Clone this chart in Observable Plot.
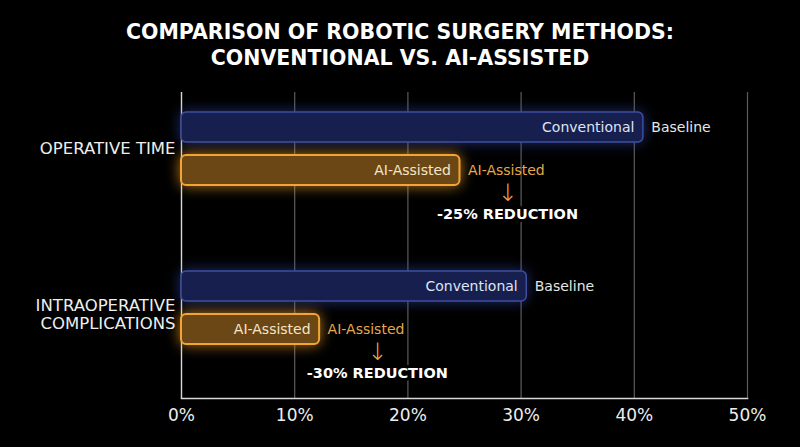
<!DOCTYPE html>
<html>
<head>
<meta charset="utf-8">
<script src="https://cdn.jsdelivr.net/npm/d3@7"></script>
<script src="https://cdn.jsdelivr.net/npm/@observablehq/plot@0.6"></script>
<style>
  html, body { margin: 0; padding: 0; background: #000; }
  body { width: 800px; height: 447px; overflow: hidden; font-family: "DejaVu Sans", sans-serif; }
  #title { height: 80px; box-sizing: border-box; padding-top: 19px; text-align: center; color: #fff;
           font-weight: 700; font-size: 20.5px; line-height: 26px; }
  #chart svg { display: block; }
</style>
</head>
<body>
<div id="title">COMPARISON OF ROBOTIC SURGERY METHODS:<br>CONVENTIONAL VS. AI-ASSISTED</div>
<div id="chart"></div>
<script>
const categories = ["OPERATIVE TIME", "INTRAOPERATIVE\nCOMPLICATIONS"];
const conventional = [40.8, 30.5];
const aiAssisted = [24.6, 12.2];
const reductionLabels = ["-25% REDUCTION", "-30% REDUCTION"];
const reductionAt = [28.8, 17.3];
const xTicks = [0, 10, 20, 30, 40, 50];

const rows = categories.map((c, i) => ({
  cat: c, conv: conventional[i], ai: aiAssisted[i], red: reductionLabels[i], at: reductionAt[i]
}));

const orange = "#e7a84c";
const font = "'DejaVu Sans', sans-serif";

const plot = Plot.plot({
  width: 800,
  height: 367,
  marginTop: 12,
  marginBottom: 49,
  marginLeft: 181,
  marginRight: 53,
  style: { background: "#000", color: "#eee", fontFamily: font },
  x: { domain: [0, 50], ticks: xTicks, tickFormat: d => d + "%" },
  y: { domain: categories, range: [-11.25, 307.75], padding: 0, axis: null },
  marks: [
    Plot.gridX(xTicks.slice(1), { stroke: "#5c5c5c", strokeOpacity: 1, strokeWidth: 1.2 }),
    Plot.ruleX([0], { stroke: "#d8d8d8", strokeWidth: 1.4 }),
    Plot.frame({ anchor: "bottom", stroke: "#d8d8d8", strokeWidth: 1.6 }),
    Plot.axisX({ ticks: xTicks, tickSize: 0, tickPadding: 10, fontSize: 17, fill: "#eee",
                 tickFormat: d => d + "%", label: null }),
    Plot.barX(rows, { x: "conv", y: "cat", insetTop: 43, insetBottom: 86, rx: 5,
                      fill: "#161f4d", stroke: "#3e4f9e", strokeWidth: 1.5, ariaDescription: "conv-bars" }),
    Plot.barX(rows, { x: "ai", y: "cat", insetTop: 86, insetBottom: 43, rx: 5,
                      fill: "#6b4716", stroke: "#f3a533", strokeWidth: 2, ariaDescription: "ai-bars" }),
    Plot.text(rows, { x: "conv", y: "cat", text: () => "Conventional", textAnchor: "end", dx: -9, dy: -21.5,
                      fill: "#dfe4f6", fontSize: 14 }),
    Plot.text(rows, { x: "conv", y: "cat", text: () => "Baseline", textAnchor: "start", dx: 8, dy: -21.5,
                      fill: "#e6e6e6", fontSize: 14 }),
    Plot.text(rows, { x: "ai", y: "cat", text: () => "AI-Assisted", textAnchor: "end", dx: -9, dy: 21.5,
                      fill: "#f5e6c8", fontSize: 14 }),
    Plot.text(rows, { x: "ai", y: "cat", text: () => "AI-Assisted", textAnchor: "start", dx: 8, dy: 21.5,
                      fill: orange, fontSize: 14 }),
    Plot.text(rows, { x: "at", y: "cat", text: () => "↓", dy: 44, fill: orange, fontSize: 24,
                      fontWeight: 300 }),
    Plot.text(rows, { x: "at", y: "cat", text: "red", dy: 65, fill: "#fff", fontSize: 14.5, fontWeight: "bold",
                      stroke: "#000", strokeWidth: 6, paintOrder: "stroke" }),
    Plot.text([rows[0]], { x: () => 0, y: "cat", text: "cat", textAnchor: "end", dx: -6, dy: 0,
                           fill: "#eee", fontSize: 16.5 }),
    Plot.text([rows[1]], { x: () => 0, y: "cat", text: "cat", textAnchor: "end", dx: -6, dy: 6,
                           fill: "#eee", fontSize: 16.5, lineHeight: 1.1 })
  ]
});

d3.select(plot).selectAll("g[aria-description='conv-bars'] rect")
  .style("filter", "drop-shadow(0 0 7px rgba(60,80,200,0.55))");
d3.select(plot).selectAll("g[aria-description='ai-bars'] rect")
  .style("filter", "drop-shadow(0 0 7px rgba(245,160,40,0.75))");

document.getElementById("chart").appendChild(plot);
</script>
</body>
</html>
